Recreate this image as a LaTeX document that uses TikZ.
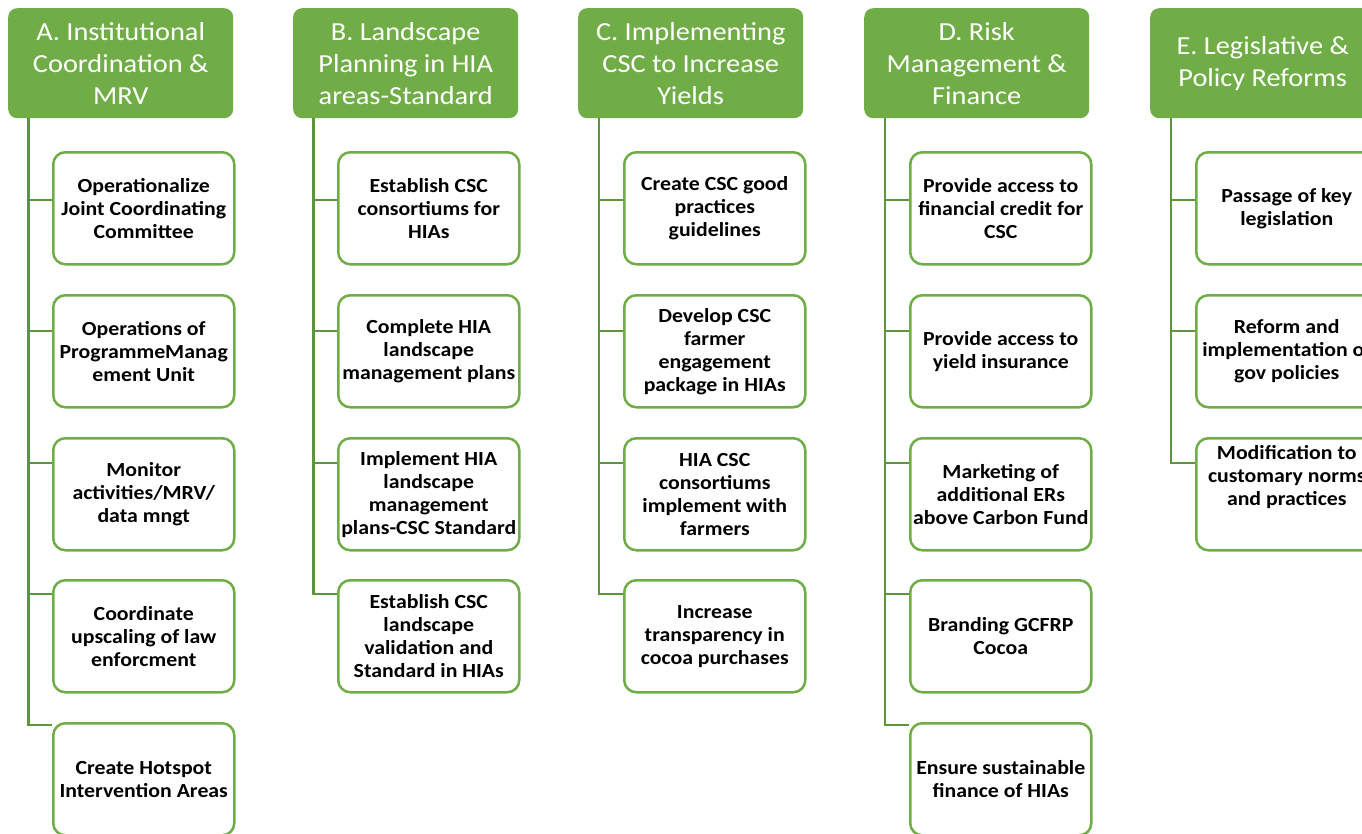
\documentclass[tikz,border=0pt]{standalone}
\usepackage{fontspec}
\setmainfont{Carlito}[FakeStretch=1.09]
\usetikzlibrary{calc}
\definecolor{hdrgreen}{RGB}{112,173,71}
\definecolor{linkgreen}{RGB}{92,150,56}
\tikzset{
  header/.style={fill=hdrgreen, draw=none, rounded corners=9pt,
    minimum width=225pt, minimum height=110pt, anchor=north west,
    text=white, align=center, inner sep=0pt,
    font=\fontsize{26}{32}\selectfont},
  task/.style={draw=hdrgreen, line width=2.5pt, fill=white, rounded corners=12pt,
    minimum width=181pt, minimum height=112pt, anchor=north west,
    align=center, inner sep=0pt, text=black,
    font=\fontsize{20}{23}\selectfont\bfseries},
  link/.style={draw=linkgreen, line width=2.2pt},
}
% spine #1 below header, branches to the listed box/offset pairs
\newcommand\treebranches[2]{%
  \foreach \b/\o in {#2}{%
    \coordinate (\b-in) at ($(\b.north west)+(0,\o)$);
    \draw[link] (#1 |- \b-in) -- (\b-in);
  }}
\begin{document}
\begin{tikzpicture}[x=1pt,y=-1pt]
\clip (0,0) rectangle (1362,833);
\fill[white] (0,0) rectangle (1362,833);

% ---------- A ----------
\node[header] (hA) at (8,8) {A. Institutional\\Coordination \&\\MRV};
\node[task] (a1) at (52,151) {Operationalize\\Joint Coordinating\\Committee};
\node[task] (a2) at (52,294) {Operations of\\ProgrammeManag\\ement Unit};
\node[task] (a3) at (52,437) {Monitor\\activities/MRV/\\data mngt};
\node[task] (a4) at (52,579) {Coordinate\\upscaling of law\\enforcment};
\node[task] (a5) at (52,722) {Create Hotspot\\Intervention Areas};
\coordinate (sA) at ($(hA.south west)+(20.5,0)$);
\treebranches{sA}{a1/49,a2/37,a3/26,a4/15}
\coordinate (a5-in) at ($(a5.north west)+(0,3)$);
\draw[link] (sA) |- (a5-in);

% ---------- B ----------
\node[header] (hB) at (293,8) {B. Landscape\\Planning in HIA\\areas-Standard};
\node[task] (b1) at (337,151) {Establish CSC\\consortiums for\\HIAs};
\node[task] (b2) at (337,294) {Complete HIA\\landscape\\management plans};
\node[task] (b3) at (337,437) {Implement HIA\\landscape\\management\\plans-CSC Standard};
\node[task] (b4) at (337,579) {Establish CSC\\landscape\\validation and\\Standard in HIAs};
\coordinate (sB) at ($(hB.south west)+(20.5,0)$);
\treebranches{sB}{b1/49,b2/37,b3/26}
\coordinate (b4-in) at ($(b4.north west)+(0,15)$);
\draw[link] (sB) |- (b4-in);

% ---------- C ----------
\node[header] (hC) at (578,8) {C. Implementing\\CSC to Increase\\Yields};
\node[task] (c1) at (623,151) {Create CSC good\\practices\\guidelines};
\node[task] (c2) at (623,294) {Develop CSC\\farmer\\engagement\\package in HIAs};
\node[task] (c3) at (623,437) {HIA CSC\\consortiums\\implement with\\farmers};
\node[task] (c4) at (623,579) {Increase\\transparency in\\cocoa purchases};
\coordinate (sC) at ($(hC.south west)+(21,0)$);
\treebranches{sC}{c1/49,c2/37,c3/26}
\coordinate (c4-in) at ($(c4.north west)+(0,15)$);
\draw[link] (sC) |- (c4-in);

% ---------- D ----------
\node[header] (hD) at (864,8) {D. Risk\\Management \&\\Finance};
\node[task] (d1) at (909,151) {Provide access to\\financial credit for\\CSC};
\node[task] (d2) at (909,294) {Provide access to\\yield insurance};
\node[task] (d3) at (909,437) {Marketing of\\additional ERs\\above Carbon Fund};
\node[task] (d4) at (909,579) {Branding GCFRP\\Cocoa};
\node[task] (d5) at (909,722) {Ensure sustainable\\finance of HIAs};
\coordinate (sD) at ($(hD.south west)+(21,0)$);
\treebranches{sD}{d1/49,d2/37,d3/26,d4/15}
\coordinate (d5-in) at ($(d5.north west)+(0,3)$);
\draw[link] (sD) |- (d5-in);

% ---------- E ----------
\node[header] (hE) at (1150,8) {E. Legislative \&\\Policy Reforms};
\node[task] (e1) at (1195,151) {Passage of key\\legislation};
\node[task] (e2) at (1195,294) {Reform and\\implementation of\\gov policies};
\node[task] (e3) at (1195,437) {\parbox[c][112pt][c]{181pt}{\centering
  Modification to\\customary norms\\and practices\par\vspace{34pt}}};
\coordinate (sE) at ($(hE.south west)+(21,0)$);
\treebranches{sE}{e1/49,e2/37}
\coordinate (e3-in) at ($(e3.north west)+(0,26)$);
\draw[link] (sE) |- (e3-in);
\end{tikzpicture}
\end{document}
